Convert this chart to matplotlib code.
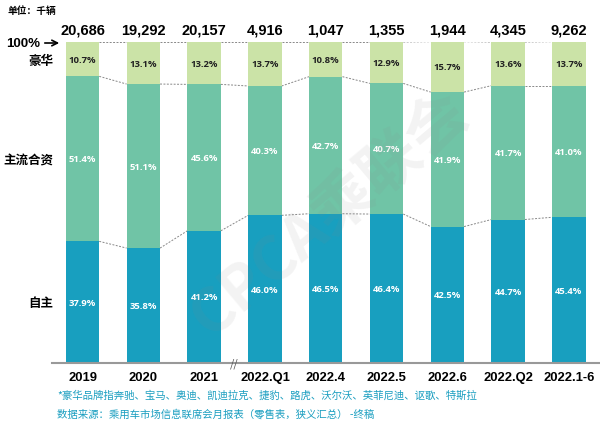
import matplotlib
matplotlib.use("Agg")
import matplotlib.pyplot as plt
import numpy as np

plt.rcParams['font.family'] = ['Noto Sans CJK SC', 'DejaVu Sans']

categories = ['2019', '2020', '2021', '2022.Q1', '2022.4', '2022.5', '2022.6', '2022.Q2', '2022.1-6']
totals = ['20,686', '19,292', '20,157', '4,916', '1,047', '1,355', '1,944', '4,345', '9,262']
luxury = [10.7, 13.1, 13.2, 13.7, 10.8, 12.9, 15.7, 13.6, 13.7]
mainstream = [51.4, 51.1, 45.6, 40.3, 42.7, 40.7, 41.9, 41.7, 41.0]
domestic = [37.9, 35.8, 41.2, 46.0, 46.5, 46.4, 42.5, 44.7, 45.4]
series_names = ['豪华', '主流合资', '自主']

c_lux = '#cbe3a7'
c_main = '#70c4a6'
c_dom = '#189fbf'
c_note = '#1a9ec0'
num_font = ['Liberation Sans', 'DejaVu Sans']
lbl_font = ['Open Sans', 'DejaVu Sans']

W, H = 600, 431
fig = plt.figure(figsize=(6, 4.31), dpi=100)
# axes spans pixel x 52..600, y 43..364
ax = fig.add_axes([52 / W, (H - 364) / H, (600 - 52) / W, (364 - 43) / H])

x = np.arange(len(categories))
bw = 0.55
dom = np.array(domestic)
main = np.array(mainstream)
lux = np.array(luxury)

ax.bar(x, dom, bw, color=c_dom, zorder=2)
ax.bar(x, main, bw, bottom=dom, color=c_main, zorder=2)
ax.bar(x, lux, bw, bottom=dom + main, color=c_lux, zorder=2)

# connector lines between bars
for i in range(len(x) - 1):
    x0, x1 = x[i] + bw / 2, x[i + 1] - bw / 2
    for lv in (dom, dom + main, dom + main + lux):
        ax.plot([x0, x1], [lv[i], lv[i + 1]], color='#888888', lw=0.7,
                ls=(0, (2, 1.5)), zorder=1)

for i in range(len(x)):
    ax.text(x[i], dom[i] / 2, f'{dom[i]:.1f}%', ha='center', va='center',
            color='white', fontsize=6.8, fontweight='bold', family=lbl_font)
    ax.text(x[i], dom[i] + main[i] / 2, f'{main[i]:.1f}%', ha='center', va='center',
            color='white', fontsize=6.8, fontweight='bold', family=lbl_font)
    ax.text(x[i], dom[i] + main[i] + lux[i] / 2, f'{lux[i]:.1f}%', ha='center',
            va='center', color='#222222', fontsize=6.8, fontweight='bold', family=lbl_font)
    ax.text(x[i], 101.8, totals[i], ha='center', va='bottom', fontsize=10.5,
            fontweight='bold', color='black', family=num_font)

ax.set_xlim(-0.502, 8.51)
ax.set_ylim(0, 100)
for s in ['top', 'right', 'left']:
    ax.spines[s].set_visible(False)
ax.spines['bottom'].set_color('#999999')
ax.spines['bottom'].set_linewidth(1.5)
ax.set_yticks([])
ax.set_xticks(x)
ax.set_xticklabels(categories, fontsize=9.4, fontweight='bold', family=num_font)
ax.tick_params(axis='x', length=0, pad=5.5)

# break mark on axis
ax.text(2.5, 0, '//', ha='center', va='center', fontsize=8, color='#555555',
        clip_on=False)

# left side labels
fig.text(6 / W, 1 - 44 / H, '100%', ha='left', va='center', fontsize=9.5,
         fontweight='bold', family=num_font)
ax.annotate('', xy=(62 / W, 1 - 44 / H), xytext=(42 / W, 1 - 44 / H),
            xycoords='figure fraction', textcoords='figure fraction',
            arrowprops=dict(arrowstyle='->', color='black', lw=1.2))
fig.text(53 / W, 1 - 61 / H, series_names[0], ha='right', va='center', fontsize=9, fontweight='bold')
fig.text(53 / W, 1 - 161 / H, series_names[1], ha='right', va='center', fontsize=9, fontweight='bold')
fig.text(53 / W, 1 - 304 / H, series_names[2], ha='right', va='center', fontsize=9, fontweight='bold')

fig.text(8 / W, 1 - 11 / H, '单位：千辆', ha='left', va='center', fontsize=7, fontweight='bold')

fig.text(57 / W, 1 - 396 / H, '*豪华品牌指奔驰、宝马、奥迪、凯迪拉克、捷豹、路虎、沃尔沃、英菲尼迪、讴歌、特斯拉',
         ha='left', va='center', fontsize=7.5, color=c_note)
fig.text(57 / W, 1 - 414 / H, '数据来源：乘用车市场信息联席会月报表（零售表，狭义汇总） -终稿',
         ha='left', va='center', fontsize=7.5, color=c_note)

# faint watermark
fig.text(330 / W, 1 - 215 / H, 'CPCA乘联会', ha='center', va='center', fontsize=44,
         fontweight='bold', color='#888888', alpha=0.1, rotation=40)

fig.savefig('out.png', dpi=100)
